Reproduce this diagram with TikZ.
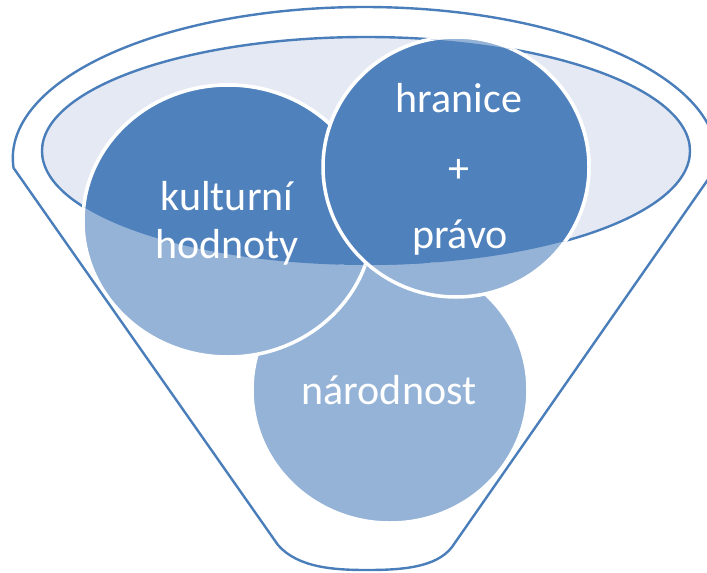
\documentclass[tikz,border=0pt]{standalone}
\usepackage{fontspec}
\setmainfont{Carlito}
\definecolor{darkblue}{HTML}{4F81BD}
\definecolor{lightblue}{HTML}{95B3D7}
\definecolor{rimfill}{HTML}{E4E9F3}
\definecolor{rimline}{HTML}{4A7EBB}
\begin{document}
\begin{tikzpicture}[x=1pt, y=-1pt,
        every node/.style={text=white, font=\fontsize{42}{50}\selectfont, anchor=base},
        ball/.style={draw=white, line width=3.5pt},
        rim/.style={draw=rimline, line width=2.4pt, line join=round}]
            \useasboundingbox (0,0) rectangle (707,573);
            \coordinate (top) at (366,151);
            \coordinate (kult) at (228,221);
            \coordinate (hran) at (456,167);
            \coordinate (narod) at (390,390);
            \def \balls#1{
                \filldraw[ball, fill=#1] (narod) ellipse [x radius=138pt, y radius=133pt];
                \filldraw[ball, fill=#1] (kult) ellipse [x radius=145pt, y radius=136pt];
                \filldraw[ball, fill=#1] (hran) ellipse [x radius=133pt, y radius=130pt];
            }
            % mouth of the funnel
            \filldraw[rim, fill=rimfill] (top) ellipse [x radius=324pt, y radius=114pt];
            \balls{lightblue}
            \begin{scope}
                \clip (top) ellipse [x radius=324pt, y radius=114pt];
                \balls{darkblue}
            \end{scope}
            % funnel body
            \draw[rim] (452,547) -- (716,168)
                arc [start angle=-3.8, end angle=183.8, x radius=352pt, y radius=151pt]
                -- (278,545) .. controls (298,568) and (335,570) .. (367,570)
                .. controls (400,570) and (436,568) .. (452,547);
            \node (kulturni) at (227,210) {kulturní};
            \node (hodnoty) at (227,258) {hodnoty};
            \node (hranice) at (459,112) {hranice};
            \node (plus) at (459,182) {+};
            \node (pravo) at (460,248) {právo};
            \node (narodnost) at (389,404) {národnost};
        \end{tikzpicture}
\end{document}
